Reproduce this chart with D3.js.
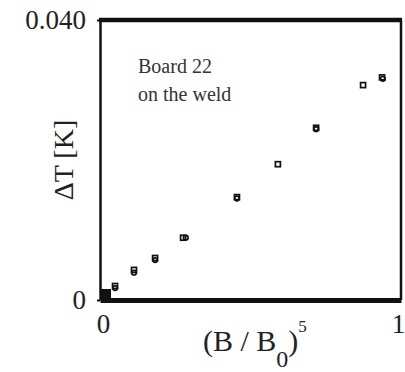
<!DOCTYPE html>
<html>
<head>
<meta charset="utf-8">
<script src="https://cdn.jsdelivr.net/npm/d3@7"></script>
<style>
  body { margin: 0; background: #fff; }
</style>
</head>
<body>
<script>
var w = 405;
var h = 372;
var serif = "'Liberation Serif', 'Times New Roman', Times, serif";

// data
var squareX = [0.050, 0.113, 0.183, 0.276, 0.455, 0.591, 0.718, 0.874, 0.937];
var squareY = [0.0020, 0.0043, 0.0060, 0.0089, 0.0147, 0.0194, 0.0246, 0.0307, 0.0318];
var circleX = [0.050, 0.113, 0.183, 0.285, 0.455, 0.718, 0.940];
var circleY = [0.0017, 0.0039, 0.0057, 0.0089, 0.0145, 0.0244, 0.0316];
var originX = [0];
var originY = [0];
var xTicks = [0, 1];
var xTickLabels = ["0", "1"];
var yTicks = [0, 0.04];
var yTickLabels = ["0", "0.040"];

var svg = d3.select("body").append("svg")
            .attr("width", w)
            .attr("height", h)
            .style("font-family", serif);

var x = d3.scaleLinear().domain([0, 1]).range([100, 401]);
var y = d3.scaleLinear().domain([0, 0.04]).range([300, 20]);

// frame: top and right
svg.append("line")
   .attr("x1", x(0) - 1).attr("x2", x(1) + 1)
   .attr("y1", y(0.04)).attr("y2", y(0.04))
   .attr("stroke", "#111").attr("stroke-width", 4.5)
svg.append("line")
   .attr("x1", x(1)).attr("x2", x(1))
   .attr("y1", y(0.04)).attr("y2", y(0))
   .attr("stroke", "#111").attr("stroke-width", 2.5)

// y axis
var yAxis = svg.append("g")
               .attr("transform", "translate(" + x(0) + ",0)")
               .call(d3.axisLeft(y)
                 .tickValues(yTicks)
                 .tickFormat(function(d, i) { return yTickLabels[i]; })
                 .tickSize(3)
                 .tickSizeOuter(0)
                 .tickPadding(11))
yAxis.attr("font-family", null)
yAxis.select(".domain").attr("stroke", "#111").attr("stroke-width", 2.5)
yAxis.selectAll("line").attr("stroke", "#111").attr("stroke-width", 2)
yAxis.selectAll("text").attr("font-size", 27).style("font-family", serif).attr("fill", "#222")

// x axis
var xAxis = svg.append("g")
               .attr("transform", "translate(0," + y(0) + ")")
               .call(d3.axisBottom(x)
                 .tickValues(xTicks)
                 .tickFormat(function(d, i) { return xTickLabels[i]; })
                 .tickSize(0)
                 .tickSizeOuter(0)
                 .tickPadding(14))
xAxis.attr("font-family", null)
xAxis.select(".domain").attr("stroke", "#111").attr("stroke-width", 5)
xAxis.selectAll("text").attr("font-size", 27).style("font-family", serif).attr("fill", "#222")
  .attr("dx", function(d) { return d == 1 ? -3 : 3; })

// filled block at the origin
svg.selectAll(".origin")
   .data(originX)
   .enter().append("rect")
   .attr("x", function(d) { return x(d); })
   .attr("y", function(d, i) { return y(originY[i]) - 11; })
   .attr("width", 11)
   .attr("height", 11)
   .attr("fill", "#111")

// open squares
svg.selectAll(".sq")
   .data(squareX)
   .enter().append("rect")
   .attr("x", function(d) { return x(d) - 2.5; })
   .attr("y", function(d, i) { return y(squareY[i]) - 2.5; })
   .attr("width", 5)
   .attr("height", 5)
   .attr("fill", "#fff")
   .attr("stroke", "#111")
   .attr("stroke-width", 1.7)

// open circles
svg.selectAll(".ci")
   .data(circleX)
   .enter().append("circle")
   .attr("cx", function(d) { return x(d); })
   .attr("cy", function(d, i) { return y(circleY[i]); })
   .attr("r", 2.3)
   .attr("fill", "none")
   .attr("stroke", "#111")
   .attr("stroke-width", 1.7)

// annotation
svg.append("text").attr("x", 138).attr("y", 73).attr("font-size", 20).attr("fill", "#333").text("Board 22")
svg.append("text").attr("x", 138).attr("y", 101).attr("font-size", 20).attr("fill", "#333").text("on the weld")

// y label
svg.append("text")
   .attr("transform", "translate(73,160) rotate(-90)")
   .attr("text-anchor", "middle")
   .attr("font-size", 28)
   .attr("fill", "#222")
   .text("\u0394T [K]")

// x label
var xl = svg.append("text").attr("x", 203).attr("y", 351).attr("font-size", 30).attr("fill", "#222")
xl.append("tspan").text("(B / B")
xl.append("tspan").attr("dy", 16).attr("font-size", 24).text("0")
xl.append("tspan").attr("dy", -16).text(")")
xl.append("tspan").attr("dy", -19).attr("font-size", 17).text("5")
</script>
</body>
</html>
